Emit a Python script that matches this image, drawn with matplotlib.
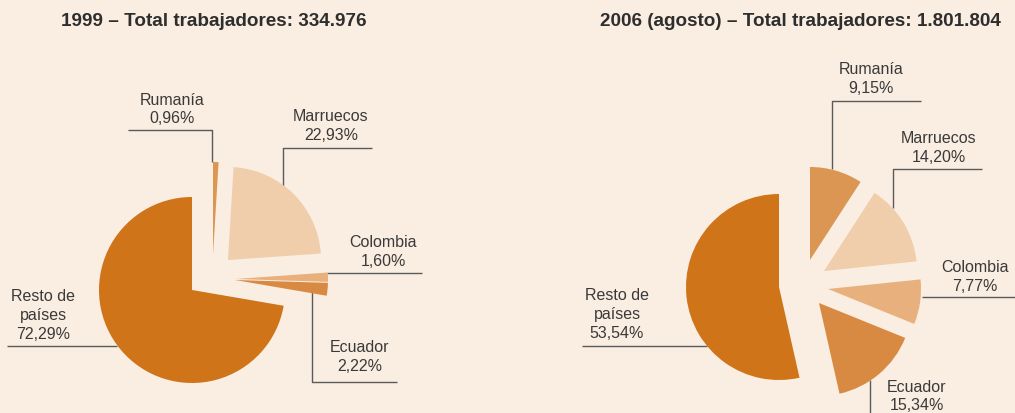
import numpy as np
from matplotlib import pyplot as plt

# data
countries = ["Rumanía", "Marruecos", "Colombia", "Ecuador", "Resto de\npaíses"]
share_1999 = [0.96, 22.93, 1.60, 2.22, 72.29]
share_2006 = [9.15, 14.20, 7.77, 15.34, 53.54]
total_1999 = 334976
total_2006 = 1801804
title_1999 = "1999"
title_2006 = "2006 (agosto)"

colors = ["#DC9653", "#F0CDAB", "#E8B07D", "#D98A42", "#CF7418"]
bg = "#FAEDE1"
txt = "#3a3a3a"
line_c = "#5a5a5a"

H = 413.0


def fmt_pct(v):
    return ("%.2f" % v).replace(".", ",") + "%"


def fmt_int(n):
    return "{:,}".format(n).replace(",", ".")


def draw_pie(ax, values, center, offsets, label_pos, leaders):
    cx, cy = center[0], H - center[1]
    wedges, _ = ax.pie(values, colors=colors, startangle=90, counterclock=False,
                       radius=93, center=(cx, cy), frame=True,
                       wedgeprops=dict(linewidth=0))
    for w, (dx, dy) in zip(wedges, offsets):
        w.set_center((cx + dx, cy + dy))
    for name, v, (lx, ly) in zip(countries, values, label_pos):
        ax.text(lx, H - ly, name + "\n" + fmt_pct(v), ha="center", va="center",
                fontsize=11.5, color=txt, linespacing=1.3)
    for pts in leaders:
        xs = [p[0] for p in pts]
        ys = [H - p[1] for p in pts]
        ax.plot(xs, ys, color=line_c, lw=1.0, zorder=0.5, solid_capstyle="butt")


plt.rcParams['font.family'] = ['Liberation Sans', 'DejaVu Sans']
fig = plt.figure(figsize=(10.15, 4.13), dpi=100)
fig.patch.set_facecolor(bg)
ax = fig.add_axes([0, 0, 1, 1])
ax.set_facecolor(bg)

draw_pie(ax, share_1999, (192, 290),
         [(21, 35), (36, 30), (43, 11), (43, 10), (0, 0)],
         [(172, 109.5), (331, 126), (383, 252), (360, 357), (43, 315.5)],
         [[(128, 130), (212, 130), (212, 162)],
          [(372, 148), (283, 148), (283, 187)],
          [(327, 273), (422, 273)],
          [(312, 292), (312, 382), (397, 382)],
          [(7, 346), (117, 346)]])

draw_pie(ax, share_2006, (779, 287),
         [(31, 27), (45, 16), (49, -2), (40, -16), (0, 0)],
         [(871, 79), (939, 148), (975, 277), (917, 396.5), (617, 314.5)],
         [[(921, 101), (832, 101), (832, 169)],
          [(982, 169), (893, 169), (893, 208)],
          [(922, 297), (1015, 297)],
          [(870, 380), (870, 413)],
          [(582, 346), (707, 346)]])

ax.text(214, H - 22, title_1999 + " – Total trabajadores: " + fmt_int(total_1999),
        ha="center", va="center", fontsize=13.6, fontweight="bold", color="#2e2e2e")
ax.text(800, H - 22, title_2006 + " – Total trabajadores: " + fmt_int(total_2006),
        ha="center", va="center", fontsize=13.6, fontweight="bold", color="#2e2e2e")

ax.set_xlim(0, 1015)
ax.set_ylim(0, H)
ax.set_aspect("equal")
ax.axis("off")

fig.savefig("out.png", dpi=100, facecolor=bg)
